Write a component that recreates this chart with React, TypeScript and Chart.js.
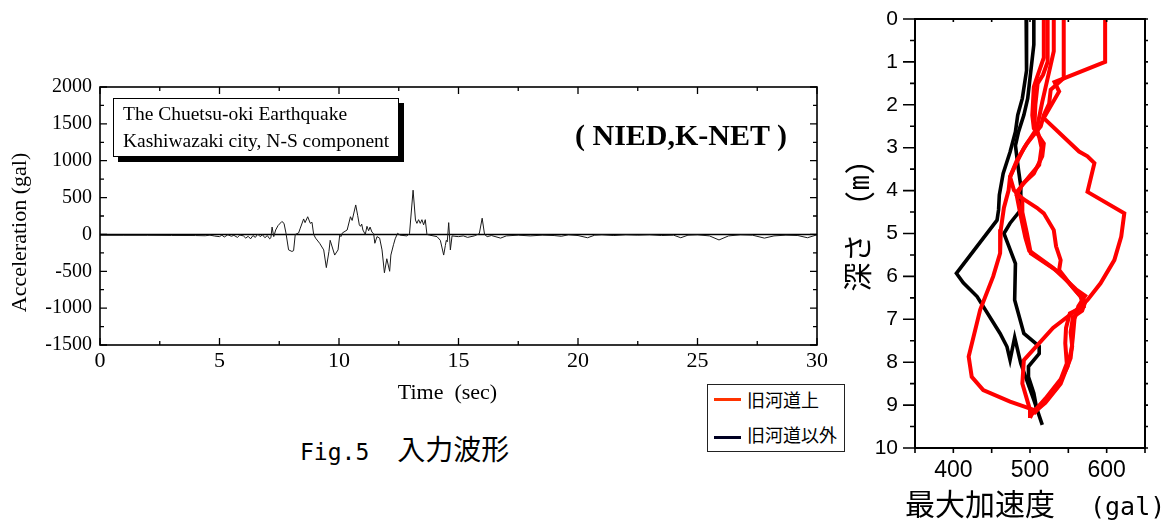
import React, { useEffect, useRef } from 'react';
import { Chart, registerables } from 'chart.js';

Chart.register(...registerables);

// ---------- Left chart: input waveform ----------
const waveTime = [
  0, 1, 2, 3, 4, 4.4, 4.6, 4.8, 5.0, 5.1,
  5.2, 5.35, 5.5, 5.6, 5.75, 5.85, 6.0, 6.1, 6.2, 6.3,
  6.4, 6.5, 6.6, 6.7, 6.8, 6.9, 7.0, 7.1, 7.15, 7.2,
  7.27, 7.35, 7.45, 7.61, 7.7, 7.78, 7.89, 8.03, 8.1, 8.17,
  8.31, 8.38, 8.52, 8.58, 8.69, 8.8, 8.87, 8.94, 9.02, 9.19,
  9.36, 9.47, 9.58, 9.63, 9.82, 9.96, 10.03, 10.08, 10.14, 10.34,
  10.48, 10.55, 10.7, 10.78, 10.85, 10.9, 10.95, 11.0, 11.1, 11.17,
  11.24, 11.3, 11.38, 11.45, 11.5, 11.59, 11.7, 11.8, 11.9, 12.0,
  12.12, 12.17, 12.28, 12.35, 12.45, 12.56, 12.84, 12.95, 13.1, 13.2,
  13.26, 13.33, 13.4, 13.47, 13.54, 13.61, 13.68, 13.8, 14.1, 14.24,
  14.38, 14.45, 14.49, 14.53, 14.59, 14.66, 14.73, 14.85, 15.0, 15.2,
  15.38, 15.66, 15.87, 15.99, 16.09, 16.2, 16.38, 16.76, 17.0, 17.5,
  18.0, 18.5, 19.0, 19.3, 19.6, 20.0, 20.4, 20.7, 21.0, 21.5,
  22.0, 22.5, 23.0, 23.5, 24.0, 24.3, 24.6, 25.0, 25.5, 25.9,
  26.3, 26.8, 27.3, 27.8, 28.2, 28.7, 29.2, 29.6, 30.0,
];
const waveAccel = [
  -12, -12, -12, -14, -15, -18, -10, -22, -30, -10,
  -35, -5, -25, -12, -40, -8, -20, -50, -25, -60,
  -15, -40, 5, -30, -5, -45, -15, -60, -45, 100,
  -30, 60, 120, 176, 150, 20, -209, -231, -220, 0,
  20, 85, 210, 160, 240, 150, 165, 0, -50, -120,
  -210, -450, -230, -80, -280, -210, -10, -30, 20, 60,
  240, 190, 400, 260, 130, 110, 140, 60, 0, 110,
  50, 100, 30, 10, -120, -30, -50, -210, -520, -330,
  -500, -280, -140, -60, 15, -10, -20, 10, 600, 195,
  150, 200, 150, 200, 130, 200, 0, -10, -30, -80,
  -280, -150, -80, -100, 160, -210, -20, -25, -30, -20,
  -40, -20, 10, 220, 0, -30, -15, -50, -20, -10,
  -20, -10, -15, -25, -5, -15, -45, -10, -5, -15,
  -5, -10, -5, -15, -10, -45, -10, -5, -20, -75,
  -20, -5, -10, -50, -20, -10, -15, -45, -5,
];
const zeroLineTime = [0, 30];
const zeroLineAccel = [0, 0];

// ---------- Right chart: max acceleration vs depth ----------
const red1Gal = [518, 518, 508, 505, 503, 505, 518, 516, 505, 490, 483, 509, 518, 531, 534, 540, 538, 555, 566, 572, 568, 556, 553, 555, 549, 535, 515, 505];
const red1Depth = [0, 0.9, 1.42, 1.58, 2.24, 2.55, 2.9, 3.2, 3.6, 3.85, 4.1, 4.4, 4.53, 4.92, 5.3, 5.62, 5.85, 6.24, 6.47, 6.6, 6.8, 6.95, 7.3, 7.63, 8.1, 8.6, 9.0, 9.2];

const red2Gal = [531, 531, 527, 516, 509, 492, 483, 474, 472, 466, 462, 461, 452, 435, 420, 424, 439, 474, 505, 500];
const red2Depth = [0, 0.75, 1.07, 1.93, 2.55, 3.01, 3.33, 3.68, 4.0, 4.4, 4.9, 5.46, 6.0, 6.78, 7.87, 8.34, 8.65, 8.92, 9.11, 9.3];

const red3Gal = [544, 544, 527, 525, 518, 514, 496, 483, 474, 479, 490, 490, 496, 501, 540, 566, 570, 552, 547, 546, 548, 540, 520, 500];
const red3Depth = [0, 1.38, 1.65, 1.97, 2.24, 2.5, 2.9, 3.29, 3.68, 3.99, 4.18, 4.5, 5.0, 5.46, 5.93, 6.47, 6.7, 6.86, 7.2, 7.56, 8.03, 8.4, 8.85, 9.25];

const red4Gal = [598, 598, 532, 538, 518, 564, 575, 584, 575, 623, 619, 610, 592, 575, 565, 530, 492, 490, 500, 500];
const red4Depth = [0, 1.0, 1.47, 1.69, 2.31, 3.09, 3.2, 3.36, 4.03, 4.53, 5.07, 5.62, 6.16, 6.55, 6.72, 7.2, 7.95, 8.5, 9.11, 9.3];

const red5Gal = [523, 523, 517, 510, 507, 506, 512, 515, 512, 500, 482, 488, 494, 499, 530, 560, 572, 563, 558, 556, 553, 540, 520, 503];
const red5Depth = [0, 1.0, 1.3, 1.5, 2.0, 2.4, 2.75, 3.0, 3.4, 3.65, 4.05, 4.6, 5.1, 5.4, 5.8, 6.3, 6.45, 6.7, 7.0, 7.4, 7.9, 8.5, 8.95, 9.2];

const black1Gal = [495, 496, 495, 490, 484, 481, 474, 465, 460, 459, 457, 404, 413, 431, 461, 470, 474, 480, 488, 505, 516];
const black1Depth = [0, 0.7, 1.2, 1.85, 2.24, 2.63, 3.1, 3.6, 4.1, 4.45, 4.69, 5.93, 6.15, 6.47, 7.33, 7.64, 7.95, 7.42, 8.03, 8.88, 9.46];

const black2Gal = [505, 505, 502, 497, 492, 485, 481, 485, 488, 488, 474, 466, 481, 480, 492, 512, 512, 498, 498, 505, 509];
const black2Depth = [0, 0.6, 1.07, 1.85, 2.24, 2.63, 2.95, 3.52, 3.9, 4.45, 4.76, 5.0, 5.7, 6.55, 7.33, 7.63, 7.8, 8.1, 8.34, 8.72, 9.11];

const legendLabels = ['旧河道上', '旧河道以外'];

const pts = (xs: number[], ys: number[]) => xs.map((x, i) => ({ x, y: ys[i] }));

// Draws the frame and tick marks (inward/outward) from the chart's own scales.
const frameTicks = {
  id: 'frameTicks',
  afterDatasetsDraw(chart: any, _args: any, o: any) {
    const { ctx, chartArea } = chart;
    const { left, right, top, bottom } = chartArea;
    const xs = chart.scales.x;
    const ys = chart.scales.y;
    const collect = (scale: any, minorMid: boolean, majorEvery: number) => {
      const vals: number[] = scale.ticks.map((t: any) => t.value);
      const out: { v: number; major: boolean }[] = [];
      vals.forEach((v, i) => {
        const r = v / majorEvery;
        out.push({ v, major: Math.abs(r - Math.round(r)) < 1e-6 });
        if (minorMid && i < vals.length - 1) out.push({ v: (v + vals[i + 1]) / 2, major: false });
      });
      return out;
    };
    ctx.save();
    ctx.strokeStyle = '#000';
    ctx.lineWidth = o.tickWidth;
    ctx.beginPath();
    collect(xs, o.xMinorMid, o.xMajorEvery).forEach(({ v, major }) => {
      const px = xs.getPixelForValue(v);
      const b = major ? o.xBottom[0] : o.xBottom[1];
      const t = major ? o.xTop[0] : o.xTop[1];
      ctx.moveTo(px, bottom);
      ctx.lineTo(px, bottom + b);
      ctx.moveTo(px, top);
      ctx.lineTo(px, top - t);
    });
    collect(ys, o.yMinorMid, o.yMajorEvery).forEach(({ v, major }) => {
      const py = ys.getPixelForValue(v);
      const l = major ? o.yLeft[0] : o.yLeft[1];
      const r = major ? o.yRight[0] : o.yRight[1];
      ctx.moveTo(left, py);
      ctx.lineTo(left - l, py);
      ctx.moveTo(right, py);
      ctx.lineTo(right + r, py);
    });
    ctx.stroke();
    ctx.lineWidth = o.borderWidth;
    ctx.strokeRect(left, top, right - left, bottom - top);
    ctx.restore();
  },
};

const serif = 'Liberation Serif';
const sans = 'Liberation Sans';
const cjkTitle = '"Noto Sans Mono CJK JP", "DejaVu Sans Mono", "Noto Sans CJK JP"';

function leftConfig(): any {
  return {
    type: 'scatter',
    data: {
      datasets: [
        { data: pts(waveTime, waveAccel), showLine: true, borderColor: '#1a1a1a', borderWidth: 1, pointRadius: 0, fill: false },
        { data: pts(zeroLineTime, zeroLineAccel), showLine: true, borderColor: '#000', borderWidth: 1.6, pointRadius: 0, fill: false },
      ],
    },
    options: {
      animation: false,
      responsive: false,
      events: [],
      layout: { padding: { left: 0, top: 87, right: 23, bottom: 0 } },
      plugins: {
        legend: { display: false },
        tooltip: { enabled: false },
        frameTicks: {
          borderWidth: 1.6, tickWidth: 1.3,
          xMinorMid: true, xMajorEvery: 5, xBottom: [-7, -4], xTop: [-7, -4],
          yMinorMid: true, yMajorEvery: 500, yLeft: [-7, -4], yRight: [-7, -4],
        },
      },
      scales: {
        x: {
          type: 'linear', min: 0, max: 30,
          ticks: { stepSize: 5, autoSkip: false, maxRotation: 0, padding: 3, color: '#000', font: { family: serif, size: 22 }, callback: (v: number) => String(v) },
          grid: { display: false, drawTicks: false },
          border: { display: false },
          title: { display: true, text: 'Time  (sec)    ', color: '#000', font: { family: serif, size: 22 }, padding: { top: 0, bottom: 14 } },
          afterFit: (s: any) => { s.height = 75; },
        },
        y: {
          type: 'linear', min: -1500, max: 2000,
          ticks: { stepSize: 500, autoSkip: false, padding: 8, color: '#000', font: { family: serif, size: 20 }, callback: (v: number) => String(v) },
          grid: { display: false, drawTicks: false },
          border: { display: false },
          title: { display: true, text: 'Acceleration (gal)      ', color: '#000', font: { family: serif, size: 22 }, padding: { top: 7, bottom: 0 } },
          afterFit: (s: any) => { s.width = 100; },
        },
      },
    },
    plugins: [frameTicks],
  };
}

function rightConfig(): any {
  const red = '#ff0000';
  const blk = '#000000';
  const line = (xs: number[], ys: number[], color: string, w: number) => ({
    data: pts(xs, ys), showLine: true, borderColor: color, borderWidth: w, pointRadius: 0, fill: false, tension: 0,
  });
  return {
    type: 'scatter',
    data: {
      datasets: [
        line(red1Gal, red1Depth, red, 4),
        line(red2Gal, red2Depth, red, 4),
        line(red3Gal, red3Depth, red, 4),
        line(red4Gal, red4Depth, red, 4),
        line(red5Gal, red5Depth, red, 4),
        line(black1Gal, black1Depth, blk, 3.6),
        line(black2Gal, black2Depth, blk, 3.6),
      ],
    },
    options: {
      animation: false,
      responsive: false,
      events: [],
      layout: { padding: { left: 0, top: 19, right: 31, bottom: 0 } },
      plugins: {
        legend: { display: false },
        tooltip: { enabled: false },
        frameTicks: {
          borderWidth: 2, tickWidth: 1.6,
          xMinorMid: false, xMajorEvery: 50, xBottom: [5, 5], xTop: [-3, -3],
          yMinorMid: false, yMajorEvery: 1, yLeft: [12, 5], yRight: [3, 3],
        },
      },
      scales: {
        x: {
          type: 'linear', min: 350, max: 650,
          ticks: { stepSize: 50, autoSkip: false, maxRotation: 0, padding: 9, color: '#000', font: { family: sans, size: 23 }, callback: (v: number) => (v % 100 === 0 ? String(v) : '') },
          grid: { display: false, drawTicks: false },
          border: { display: false },
          title: { display: false },
          afterFit: (s: any) => { s.height = 78; },
        },
        y: {
          type: 'linear', min: 0, max: 10, reverse: true,
          ticks: { stepSize: 0.5, autoSkip: false, padding: 0, color: '#000', font: { family: sans, size: 21 }, callback: (v: number) => (Number.isInteger(v) ? String(v) : '') },
          grid: { display: false, drawTicks: true, tickLength: 17 },
          border: { display: false },
          title: { display: true, text: ' 深さ　(m)', color: '#000', font: { family: cjkTitle, size: 29 }, padding: { top: 1, bottom: 0 } },
          afterFit: (s: any) => { s.width = 75; },
        },
      },
    },
    plugins: [frameTicks],
  };
}

export default function App() {
  const leftRef = useRef<HTMLCanvasElement>(null);
  const rightRef = useRef<HTMLCanvasElement>(null);

  useEffect(() => {
    const c1 = new Chart(leftRef.current as HTMLCanvasElement, leftConfig());
    const c2 = new Chart(rightRef.current as HTMLCanvasElement, rightConfig());
    return () => {
      c1.destroy();
      c2.destroy();
    };
  }, []);

  const cjk = '"Noto Sans CJK JP", sans-serif';

  return (
    <div style={{ position: 'absolute', left: 0, top: 0, width: 1176, height: 526, background: '#fff', overflow: 'hidden' }}>
      <canvas ref={leftRef} width={840} height={420} style={{ position: 'absolute', left: 0, top: 0, width: 840, height: 420 }} />
      <canvas ref={rightRef} width={336} height={526} style={{ position: 'absolute', left: 840, top: 0, width: 336, height: 526 }} />

      {/* annotation box */}
      <div style={{ position: 'absolute', left: 113, top: 98, width: 286, height: 59, boxSizing: 'border-box', border: '1px solid #000', background: '#fff', boxShadow: '5px 5px 0 0 #000' }}>
        <div style={{ position: 'absolute', left: 9, top: 5, fontFamily: serif, fontSize: 19.5, lineHeight: 1, whiteSpace: 'nowrap', color: '#000' }}>The Chuetsu-oki Earthquake</div>
        <div style={{ position: 'absolute', left: 9, top: 32, fontFamily: serif, fontSize: 19.5, lineHeight: 1, whiteSpace: 'nowrap', color: '#000' }}>Kashiwazaki city, N-S component</div>
      </div>

      <div style={{ position: 'absolute', left: 575, top: 120, fontFamily: serif, fontWeight: 'bold', fontSize: 30, lineHeight: 1, whiteSpace: 'nowrap', color: '#000' }}>( NIED,K-NET )</div>

      {/* x-axis title of the right chart */}
      <div style={{ position: 'absolute', left: 905, top: 487, height: 30, lineHeight: '30px', whiteSpace: 'nowrap', color: '#000' }}>
        <span style={{ fontFamily: cjk, fontSize: 30 }}>最大加速度　</span>
        <span style={{ fontFamily: '"DejaVu Sans Mono", monospace', fontSize: 25, marginLeft: 5 }}>(gal)</span>
      </div>

      {/* legend of the right chart */}
      <div style={{ position: 'absolute', left: 707, top: 384, width: 138, height: 68, boxSizing: 'border-box', border: '1px solid #222', background: '#fff' }}>
        <div style={{ position: 'absolute', left: 6, top: 13, width: 27, height: 3, background: '#ff3300' }} />
        <div style={{ position: 'absolute', left: 39, top: 5, fontFamily: cjk, fontSize: 18, lineHeight: '18px', whiteSpace: 'nowrap', color: '#000' }}>{legendLabels[0]}</div>
        <div style={{ position: 'absolute', left: 6, top: 51, width: 27, height: 3, background: '#000022' }} />
        <div style={{ position: 'absolute', left: 39, top: 40, fontFamily: cjk, fontSize: 18, lineHeight: '18px', whiteSpace: 'nowrap', color: '#000' }}>{legendLabels[1]}</div>
      </div>

      {/* caption */}
      <div style={{ position: 'absolute', left: 300, top: 434, height: 28, lineHeight: '28px', whiteSpace: 'nowrap', color: '#000' }}>
        <span style={{ fontFamily: '"DejaVu Sans Mono", monospace', fontSize: 23 }}>Fig.5</span>
        <span style={{ fontFamily: cjk, fontSize: 28 }}>　入力波形</span>
      </div>
    </div>
  );
}
